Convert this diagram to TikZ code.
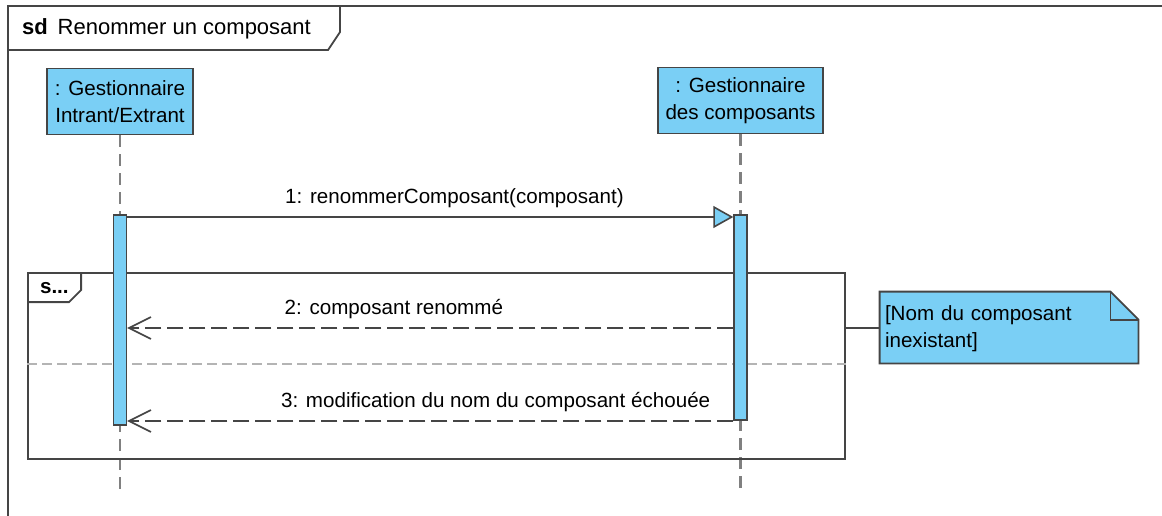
\documentclass[tikz,border=0pt]{standalone}
\usepackage{fontspec}
\setmainfont{Liberation Sans}
\usepackage{tikz}
\usetikzlibrary{arrows.meta,positioning,calc,backgrounds}
\definecolor{vpBlue}{HTML}{7ACFF5}
\definecolor{vpLine}{HTML}{454545}
\definecolor{vpLife}{HTML}{808080}
\definecolor{vpSep}{HTML}{B4B4B4}

\begin{document}
\begin{tikzpicture}[x=0.5pt,y=-0.5pt,font=\fontsize{10.3}{13.5}\selectfont,
    actor/.style={draw=vpLine,fill=vpBlue,line width=0.9pt,align=center,inner sep=2pt,minimum height=33pt},
    actbar/.style={draw=vpLine,fill=vpBlue,line width=0.7pt,minimum width=6.5pt,inner sep=0pt},
    life/.style={vpLife,line width=1.2pt,dash pattern=on 6pt off 3.5pt},
    frame/.style={vpLine,line width=0.9pt},
    sep/.style={vpSep,line width=0.9pt,dash pattern=on 5pt off 2.5pt},
    call/.style={vpLine,line width=1pt,-{Triangle[length=10pt,width=11pt,fill=vpBlue,line width=0.8pt]}},
    reply/.style={vpLine,line width=1pt,dash pattern=on 8pt off 3pt,
                  -{Straight Barb[length=11pt,width=11pt,line width=0.8pt]}},
    lbl/.style={text=black,yshift=9.5pt}]
  \useasboundingbox (0,0) rectangle (1162,515);
  \node[anchor=west,font=\fontsize{11}{13}\selectfont] (sdlbl) at (15,29) {\textbf{sd}\hspace{5pt}Renommer un composant};
  \draw[frame] (8,520) -- (8,6) -- (1170,6);
  \draw[frame] (8,50) -- (328,50) -- (340,32) -- (340,6);
  \node[actor,minimum width=73pt] (gio) at (120,101.5) {: Gestionnaire\\Intrant/Extrant};
  \node[actor,minimum width=82.5pt] (gc) at (740.5,100.5) {: Gestionnaire\\des composants};
  \coordinate (lifeEnd) at (0,495);
  \draw[life] (gio.south) -- (gio.south |- lifeEnd);
  \draw[life] (gc.south) -- (gc.south |- lifeEnd);
  \node[draw=vpLine,line width=0.9pt,minimum width=408.5pt,minimum height=93pt,inner sep=0pt] (frag) at (436.5,366) {};
  \draw[frame] ($(frag.north west)+(0,30)$) -- ++(42,0) -- ++(12,-12) -- ++(0,-18);
  \node[anchor=west,font=\bfseries\fontsize{10.3}{12}\selectfont] (fraglbl) at (33,288) {s...};
  \coordinate (sepY) at (0,364);
  \draw[sep] (frag.west |- sepY) -- (frag.east |- sepY);
  \node[actbar,minimum height=105pt] (act1) at (gio.south |- 0,320) {};
  \node[actbar,minimum height=102.5pt] (act2) at (gc.south |- 0,317.5) {};
  \coordinate (m1) at (0,217);
  \coordinate (m2) at (0,328);
  \coordinate (m3) at (0,421);
  \draw[call] (act1.east |- m1) -- (act2.west |- m1) node[lbl,pos=0.54] {1: renommerComposant(composant)};
  \draw[reply] (act2.west |- m2) -- (act1.east |- m2) node[lbl,pos=0.56] {2: composant renommé};
  \draw[reply] (act2.west |- m3) -- (act1.east |- m3) node[lbl,pos=0.392] {3: modification du nom du composant échouée};
  \node[align=left,minimum width=129pt,minimum height=35.5pt,text width=124pt,inner sep=2.5pt,
        font=\fontsize{10.3}{13.5}\selectfont] (note) at (1009,329) {[Nom du composant\\inexistant]};
  \begin{scope}[on background layer]
    \draw[frame,fill=vpBlue] ($(note.north west)+(0,-1.5)$) -- ($(note.north east)+(-28,-1.5)$) -- ($(note.north east)+(0,26.5)$)
      -- ($(note.south east)+(0,-1.5)$) -- ($(note.south west)+(0,-1.5)$) -- cycle;
    \draw[frame] ($(note.north east)+(-28,-1.5)$) |- ($(note.north east)+(0,26.5)$);
  \end{scope}
  \draw[frame] (frag.east |- 0,328) -- (note.west |- 0,328);
\end{tikzpicture}
\end{document}
